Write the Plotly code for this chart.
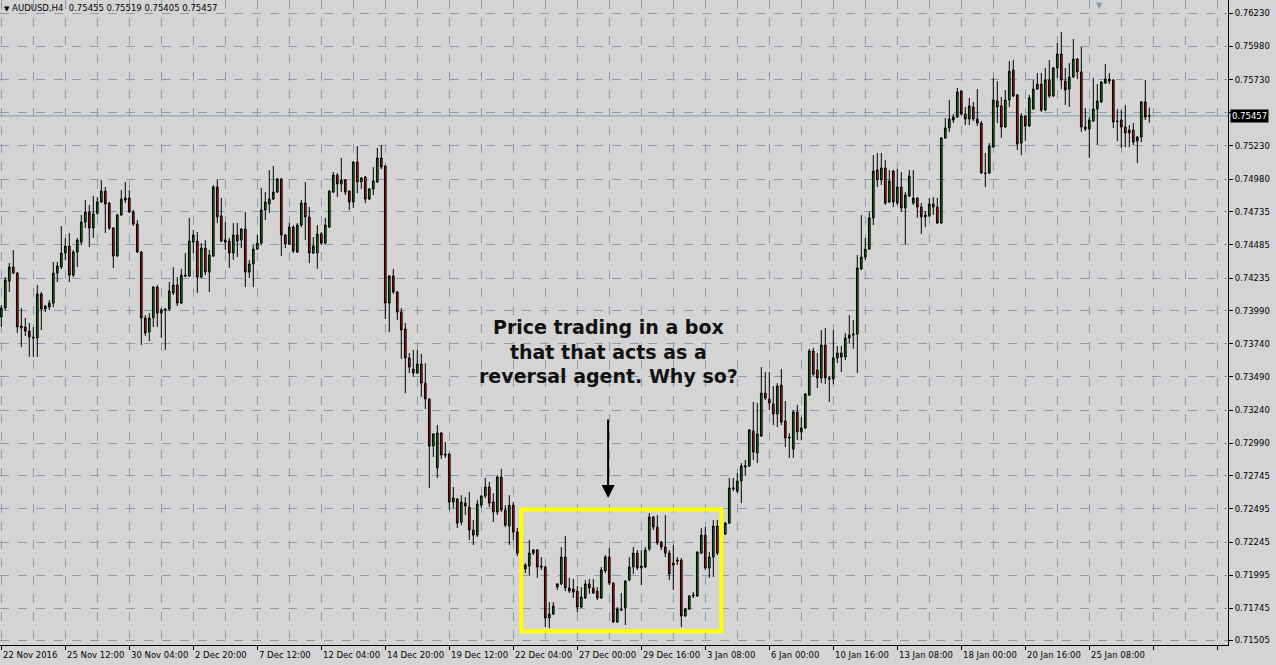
import plotly.graph_objects as go

symbol = "AUDUSD"
timeframe = "H4"

opens = [0.73941,0.74009,0.74212,0.74318,0.74272,0.73874,0.73866,0.73835,0.73790,0.73783,
0.74115,0.74001,0.74016,0.74046,0.74272,0.74318,0.74423,0.74476,0.74257,0.74431,
0.74506,0.74657,0.74733,0.74612,0.74725,0.74808,0.74890,0.74800,0.74612,0.74401,
0.74710,0.74838,0.74838,0.74733,0.74642,0.74431,0.73934,0.73828,0.73934,0.74167,
0.73971,0.74001,0.74001,0.74122,0.74182,0.74046,0.74257,0.74250,0.74506,0.74513,
0.74242,0.74461,0.74280,0.74401,0.74921,0.74703,0.74521,0.74513,0.74423,0.74559,
0.74521,0.74604,0.74280,0.74341,0.74453,0.74498,0.74748,0.74793,0.74830,0.74883,
0.74981,0.74559,0.74491,0.74619,0.74431,0.74634,0.74800,0.74695,0.74423,0.74423,
0.74567,0.74498,0.74619,0.74883,0.75011,0.74944,0.74974,0.74890,0.74808,0.75109,
0.74959,0.74996,0.74830,0.74906,0.74959,0.75140,0.75079,0.74046,0.74250,0.74130,
0.73979,0.73851,0.73633,0.73549,0.73519,0.73587,0.73443,0.73323,0.72969,0.72804,
0.73067,0.72909,0.72909,0.72547,0.72569,0.72396,0.72539,0.72509,0.72336,0.72298,
0.72524,0.72592,0.72660,0.72547,0.72472,0.72735,0.72487,0.72366,0.72524,0.72321,
0.72162,0.72042,0.72065,0.72162,0.72185,0.72065,0.72057,0.71673,0.71703,0.71906,
0.71929,0.72132,0.71899,0.71891,0.71876,0.71755,0.71824,0.71929,0.71899,0.71876,
0.71824,0.72027,0.72132,0.71936,0.71643,0.71740,0.71748,0.71959,0.72057,0.72162,
0.72050,0.72057,0.72193,0.72434,0.72358,0.72246,0.72208,0.72162,0.72087,0.72110,
0.72110,0.71688,0.71740,0.71839,0.71839,0.72162,0.72298,0.72050,0.72132,0.72366,
0.72162,0.72306,0.72388,0.72645,0.72629,0.72705,0.72811,0.72819,0.73082,0.72916,
0.73045,0.73368,0.73323,0.73286,0.73210,0.73428,0.73157,0.73037,0.72946,0.73225,
0.73075,0.73105,0.73353,0.73685,0.73542,0.73482,0.73730,0.73482,0.73474,0.73633,
0.73670,0.73640,0.73783,0.73805,0.73813,0.74303,0.74393,0.74453,0.74688,0.75049,
0.74974,0.75064,0.74808,0.75041,0.74800,0.74921,0.74763,0.74853,0.74800,0.74838,
0.74770,0.74695,0.74703,0.74793,0.74770,0.74649,0.75291,0.75366,0.75426,0.75448,
0.75644,0.75471,0.75433,0.75524,0.75433,0.75403,0.75026,0.75026,0.75222,0.75569,
0.75532,0.75373,0.75577,0.75803,0.75614,0.75252,0.75456,0.75381,0.75509,0.75659,
0.75697,0.75501,0.75727,0.75607,0.75818,0.75923,0.75719,0.75659,0.75750,0.75885,
0.75788,0.75373,0.75358,0.75418,0.75509,0.75562,0.75704,0.75735,0.75727,0.75418,
0.75426,0.75373,0.75328,0.75351,0.75267,0.75298,0.75562,0.75455]

highs = [0.74031,0.74242,0.74348,0.74446,0.74280,0.74009,0.73934,0.73896,0.73866,0.74182,
0.74130,0.74031,0.74069,0.74356,0.74356,0.74627,0.74537,0.74574,0.74446,0.74537,
0.74710,0.74823,0.74785,0.74853,0.74845,0.74974,0.74921,0.74808,0.74619,0.74718,
0.74898,0.74959,0.74898,0.74748,0.74672,0.74438,0.73956,0.73971,0.74175,0.74182,
0.74009,0.74009,0.74205,0.74318,0.74242,0.74303,0.74423,0.74688,0.74597,0.74582,
0.74498,0.74521,0.74446,0.74936,0.74974,0.74838,0.74657,0.74537,0.74649,0.74649,
0.74612,0.74733,0.74371,0.74483,0.74559,0.74914,0.74883,0.75049,0.75079,0.74989,
0.74989,0.74567,0.74649,0.74634,0.74649,0.74823,0.74959,0.74770,0.74544,0.74634,
0.74582,0.74688,0.74898,0.75034,0.75026,0.75140,0.74981,0.74898,0.75116,0.75230,
0.74996,0.75004,0.74914,0.75071,0.75215,0.75237,0.75086,0.74257,0.74303,0.74137,
0.74009,0.73896,0.73670,0.73693,0.73693,0.73663,0.73594,0.73331,0.73067,0.73127,
0.73075,0.72999,0.72916,0.72660,0.72577,0.72599,0.72584,0.72622,0.72411,0.72562,
0.72599,0.72728,0.72698,0.72614,0.72750,0.72796,0.72524,0.72599,0.72547,0.72351,
0.72201,0.72087,0.72261,0.72193,0.72193,0.72132,0.72065,0.71793,0.71793,0.71936,
0.72208,0.72291,0.71975,0.71967,0.71914,0.71906,0.71959,0.71967,0.71967,0.71906,
0.72057,0.72147,0.72201,0.71944,0.71755,0.71861,0.71959,0.72132,0.72208,0.72185,
0.72185,0.72208,0.72464,0.72442,0.72449,0.72253,0.72449,0.72185,0.72223,0.72132,
0.72125,0.71748,0.71846,0.71869,0.72177,0.72351,0.72358,0.72170,0.72411,0.72411,
0.72336,0.72396,0.72728,0.72728,0.72765,0.72841,0.72864,0.73097,0.73301,0.73293,
0.73564,0.73527,0.73527,0.73421,0.73443,0.73549,0.73308,0.73067,0.73240,0.73278,
0.73187,0.73368,0.73700,0.73708,0.73670,0.73843,0.73859,0.73497,0.73843,0.73723,
0.73723,0.73820,0.73956,0.73919,0.74408,0.74710,0.74537,0.74733,0.75162,0.75177,
0.75177,0.75124,0.75049,0.75049,0.75056,0.75034,0.74883,0.75049,0.75049,0.74845,
0.74800,0.74740,0.74838,0.74845,0.74838,0.75298,0.75441,0.75577,0.75471,0.75667,
0.75652,0.75524,0.75592,0.75562,0.75659,0.75418,0.75177,0.75252,0.75743,0.75719,
0.75599,0.75652,0.75870,0.75878,0.75622,0.75478,0.75463,0.75614,0.75727,0.75780,
0.75780,0.75818,0.75878,0.75825,0.76006,0.76089,0.75818,0.75855,0.76036,0.75893,
0.75976,0.75517,0.75448,0.75743,0.75697,0.75719,0.75848,0.75780,0.75735,0.75509,
0.75501,0.75539,0.75388,0.75403,0.75306,0.75569,0.75727,0.75519]

lows = [0.73866,0.73994,0.74130,0.74265,0.73820,0.73715,0.73798,0.73640,0.73640,0.73640,
0.73843,0.73979,0.73994,0.74016,0.74205,0.74303,0.74371,0.74205,0.74242,0.74318,
0.74483,0.74612,0.74468,0.74537,0.74710,0.74800,0.74574,0.74597,0.74311,0.74393,
0.74703,0.74800,0.74725,0.74627,0.74423,0.73730,0.73798,0.73760,0.73866,0.73866,
0.73783,0.73693,0.73986,0.74107,0.74024,0.74039,0.74242,0.74242,0.74423,0.74122,
0.74235,0.74257,0.74130,0.74393,0.74649,0.74506,0.74446,0.74311,0.74371,0.74393,
0.74461,0.74167,0.74235,0.74167,0.74446,0.74483,0.74672,0.74725,0.74823,0.74875,
0.74401,0.74461,0.74483,0.74423,0.74423,0.74619,0.74521,0.74348,0.74416,0.74303,
0.74483,0.74491,0.74612,0.74875,0.74845,0.74883,0.74860,0.74748,0.74763,0.74875,
0.74906,0.74800,0.74823,0.74860,0.74951,0.75056,0.73926,0.73828,0.74115,0.73919,
0.73625,0.73368,0.73519,0.73489,0.73512,0.73338,0.73248,0.72653,0.72886,0.72728,
0.72871,0.72879,0.72487,0.72502,0.72351,0.72373,0.72449,0.72261,0.72223,0.72283,
0.72502,0.72577,0.72509,0.72396,0.72449,0.72472,0.72358,0.72223,0.72261,0.72140,
0.72020,0.72012,0.71997,0.72147,0.71975,0.72035,0.71605,0.71598,0.71695,0.71884,
0.71921,0.71876,0.71861,0.71824,0.71718,0.71748,0.71816,0.71854,0.71854,0.71808,
0.71816,0.72012,0.71921,0.71635,0.71635,0.71725,0.71620,0.71951,0.72005,0.72035,
0.71921,0.72050,0.72177,0.72336,0.72223,0.72185,0.72132,0.71959,0.71884,0.72072,
0.71605,0.71680,0.71733,0.71824,0.71831,0.72155,0.72035,0.71975,0.71982,0.72147,
0.72140,0.72298,0.72381,0.72629,0.72614,0.72539,0.72750,0.72811,0.72864,0.72841,
0.73037,0.73316,0.73240,0.73127,0.73112,0.73127,0.72961,0.72879,0.72879,0.73014,
0.73014,0.73097,0.73346,0.73497,0.73406,0.73443,0.73436,0.73301,0.73436,0.73594,
0.73527,0.73617,0.73745,0.73700,0.73519,0.74295,0.74371,0.74446,0.74634,0.74921,
0.74936,0.74785,0.74800,0.74770,0.74785,0.74733,0.74491,0.74845,0.74785,0.74688,
0.74567,0.74619,0.74695,0.74710,0.74642,0.74642,0.75283,0.75336,0.75403,0.75441,
0.75463,0.75388,0.75388,0.75418,0.75381,0.75019,0.74921,0.75019,0.75215,0.75403,
0.75291,0.75366,0.75524,0.75599,0.75200,0.75162,0.75267,0.75373,0.75501,0.75652,
0.75486,0.75493,0.75592,0.75599,0.75743,0.75659,0.75539,0.75524,0.75743,0.75735,
0.75336,0.75343,0.75140,0.75411,0.75237,0.75554,0.75697,0.75697,0.75366,0.75267,
0.75215,0.75222,0.75222,0.75237,0.75101,0.75260,0.75426,0.75405]

closes = [0.74009,0.74220,0.74318,0.74272,0.73866,0.73859,0.73835,0.73790,0.73783,0.74115,
0.74001,0.74024,0.74046,0.74272,0.74326,0.74423,0.74476,0.74257,0.74431,0.74521,
0.74657,0.74733,0.74612,0.74718,0.74808,0.74890,0.74793,0.74612,0.74401,0.74710,
0.74830,0.74823,0.74733,0.74642,0.74431,0.73934,0.73820,0.73934,0.74167,0.73971,
0.73994,0.73994,0.74137,0.74182,0.74046,0.74257,0.74250,0.74513,0.74559,0.74242,
0.74461,0.74280,0.74408,0.74921,0.74695,0.74513,0.74506,0.74423,0.74559,0.74513,
0.74604,0.74280,0.74341,0.74453,0.74498,0.74748,0.74808,0.74830,0.74883,0.74981,
0.74559,0.74491,0.74619,0.74438,0.74634,0.74800,0.74695,0.74423,0.74476,0.74567,
0.74498,0.74634,0.74890,0.75011,0.74944,0.74974,0.74883,0.74808,0.75109,0.74959,
0.74989,0.74830,0.74906,0.74966,0.75140,0.75071,0.74046,0.74250,0.74130,0.73979,
0.73843,0.73633,0.73564,0.73519,0.73587,0.73443,0.73323,0.72969,0.73060,0.73067,
0.72901,0.72901,0.72547,0.72577,0.72388,0.72547,0.72517,0.72336,0.72298,0.72532,
0.72592,0.72660,0.72539,0.72472,0.72735,0.72487,0.72373,0.72524,0.72321,0.72162,
0.72050,0.72072,0.72162,0.72185,0.72057,0.72057,0.71673,0.71703,0.71763,0.71929,
0.72132,0.71899,0.71876,0.71869,0.71755,0.71831,0.71929,0.71899,0.71861,0.71824,
0.72035,0.72132,0.71936,0.71643,0.71740,0.71733,0.71951,0.72057,0.72162,0.72050,
0.72065,0.72185,0.72434,0.72358,0.72238,0.72208,0.72162,0.72005,0.72072,0.72102,
0.71688,0.71740,0.71839,0.71846,0.72170,0.72298,0.72050,0.72132,0.72366,0.72162,
0.72306,0.72388,0.72653,0.72653,0.72705,0.72819,0.72819,0.73090,0.72924,0.73060,
0.73368,0.73331,0.73293,0.73210,0.73421,0.73150,0.73030,0.73030,0.73225,0.73075,
0.73105,0.73361,0.73685,0.73512,0.73482,0.73730,0.73482,0.73474,0.73633,0.73670,
0.73640,0.73783,0.73805,0.73813,0.74311,0.74393,0.74453,0.74688,0.75041,0.74974,
0.75064,0.74800,0.74966,0.74808,0.74921,0.74763,0.74860,0.75004,0.74838,0.74770,
0.74695,0.74710,0.74793,0.74770,0.74649,0.75291,0.75366,0.75433,0.75448,0.75637,
0.75471,0.75433,0.75532,0.75433,0.75403,0.75026,0.75022,0.75230,0.75577,0.75524,
0.75373,0.75577,0.75795,0.75607,0.75245,0.75456,0.75381,0.75592,0.75659,0.75697,
0.75501,0.75727,0.75607,0.75818,0.75923,0.75727,0.75652,0.75750,0.75885,0.75788,
0.75373,0.75358,0.75426,0.75509,0.75569,0.75712,0.75735,0.75719,0.75411,0.75414,
0.75373,0.75328,0.75351,0.75260,0.75298,0.75562,0.75448,0.75457]

time_labels = ["22 Nov 2016", "25 Nov 12:00", "30 Nov 04:00", "2 Dec 20:00", "7 Dec 12:00",
               "12 Dec 04:00", "14 Dec 20:00", "19 Dec 12:00", "22 Dec 04:00", "27 Dec 00:00",
               "29 Dec 16:00", "3 Jan 08:00", "6 Jan 00:00", "10 Jan 16:00", "13 Jan 08:00",
               "18 Jan 00:00", "20 Jan 16:00", "25 Jan 08:00"]
bars_per_label = 16

price_ticks = [0.76230, 0.75980, 0.75730, 0.75480, 0.75230, 0.74980, 0.74735, 0.74485,
               0.74235, 0.73990, 0.73740, 0.73490, 0.73240, 0.72990, 0.72745, 0.72495,
               0.72245, 0.71995, 0.71745, 0.71505]
price_tick_text = ["0.76230", "0.75980", "0.75730", "", "0.75230", "0.74980", "0.74735",
                   "0.74485", "0.74235", "0.73990", "0.73740", "0.73490", "0.73240",
                   "0.72990", "0.72745", "0.72495", "0.72245", "0.71995", "0.71745", "0.71505"]

note_text = "Price trading in a box<br>that that acts as a<br>reversal agent. Why so?"
box_bar_range = [130, 180]
box_price_range = [0.71574, 0.72491]
note_bar = 151.7
note_price = 0.73678
arrow_tip_price = 0.72577

bars = list(range(len(opens)))
BG = "#D4D4D4"
GRID = "#8C9BAE"
FONT = "DejaVu Sans"
TICK_SIZE = 8.5

fig = go.Figure(go.Candlestick(
    x=bars, open=opens, high=highs, low=lows, close=closes,
    increasing=dict(line=dict(color="black", width=1), fillcolor="#008C00"),
    decreasing=dict(line=dict(color="black", width=1), fillcolor="#D01010"),
    whiskerwidth=0, hoverinfo="skip", showlegend=False))

fig.update_layout(
    width=1276, height=665, margin=dict(l=0, r=48, t=0, b=20),
    paper_bgcolor=BG, plot_bgcolor=BG, boxgap=0.4, showlegend=False,
    font=dict(family=FONT, size=TICK_SIZE, color="black"))

fig.update_xaxes(
    range=[-0.325, 306.675], rangeslider_visible=False,
    tickmode="linear", tick0=0, dtick=bars_per_label,
    ticks="outside", ticklen=4, tickcolor="black", showticklabels=False,
    showgrid=True, gridcolor=GRID, griddash="dash", gridwidth=1,
    minor=dict(tick0=0, dtick=bars_per_label // 2, showgrid=True,
               gridcolor=GRID, griddash="dash", ticks=""),
    showline=True, linecolor="black", linewidth=1, zeroline=False)

fig.update_yaxes(
    side="right", range=[0.714695, 0.763302], automargin=False,
    tickmode="array", tickvals=price_ticks, ticktext=price_tick_text,
    ticks="outside", ticklen=4, tickcolor="black",
    showgrid=True, gridcolor=GRID, griddash="dash", gridwidth=1,
    showline=True, linecolor="black", linewidth=1, zeroline=False,
    tickfont=dict(family=FONT, size=TICK_SIZE, color="black"))

last_close = closes[-1]
fig.add_shape(type="line", xref="paper", x0=0, x1=1, yref="y", y0=last_close, y1=last_close,
              line=dict(color=GRID, width=1), layer="below")

fig.add_annotation(xref="paper", x=1, xanchor="left", xshift=2, yref="y", y=last_close,
                   text=f"{last_close:.5f}", showarrow=False, bgcolor="black", borderpad=1,
                   font=dict(family=FONT, size=TICK_SIZE, color="white"))

fig.add_annotation(xref="paper", yref="paper", x=0, y=1, xanchor="left", yanchor="top",
                   xshift=2, yshift=-1, showarrow=False,
                   text=(f"<span style='font-size:7px'>▼</span> {symbol},{timeframe}  "
                         f"{opens[-1]:.5f} {highs[-1]:.5f} {lows[-1]:.5f} {closes[-1]:.5f}"),
                   font=dict(family=FONT, size=TICK_SIZE, color="black"))

fig.add_annotation(xref="paper", yref="paper", x=1105 / 1228, y=1, yanchor="top",
                   yshift=1, showarrow=False, text="▼",
                   font=dict(family=FONT, size=8, color=GRID))

for k, lab in enumerate(time_labels):
    fig.add_annotation(xref="x", x=bars[k * bars_per_label], yref="paper", y=0,
                       xanchor="left", yanchor="top", xshift=0, yshift=-3,
                       text=lab, showarrow=False,
                       font=dict(family=FONT, size=TICK_SIZE, color="black"))

fig.add_shape(type="rect", xref="x", yref="y",
              x0=box_bar_range[0], x1=box_bar_range[1],
              y0=box_price_range[0], y1=box_price_range[1],
              line=dict(color="#FFFF00", width=4), fillcolor="rgba(0,0,0,0)")

fig.add_annotation(xref="x", yref="y", x=note_bar, y=note_price, text=f"<b>{note_text}</b>",
                   showarrow=False, align="center",
                   font=dict(family=FONT, size=19, color="#111111"))

fig.add_annotation(xref="x", yref="y", x=note_bar, y=arrow_tip_price, text="",
                   showarrow=True, ax=0, ay=-80, arrowhead=2, arrowsize=1.3,
                   arrowwidth=2, arrowcolor="black", standoff=0)

fig.write_html(
    "out.html",
    config={"displayModeBar": False},
    post_script="document.body.style.margin='0';document.body.style.padding='0';"
                "document.body.style.overflow='hidden';")
